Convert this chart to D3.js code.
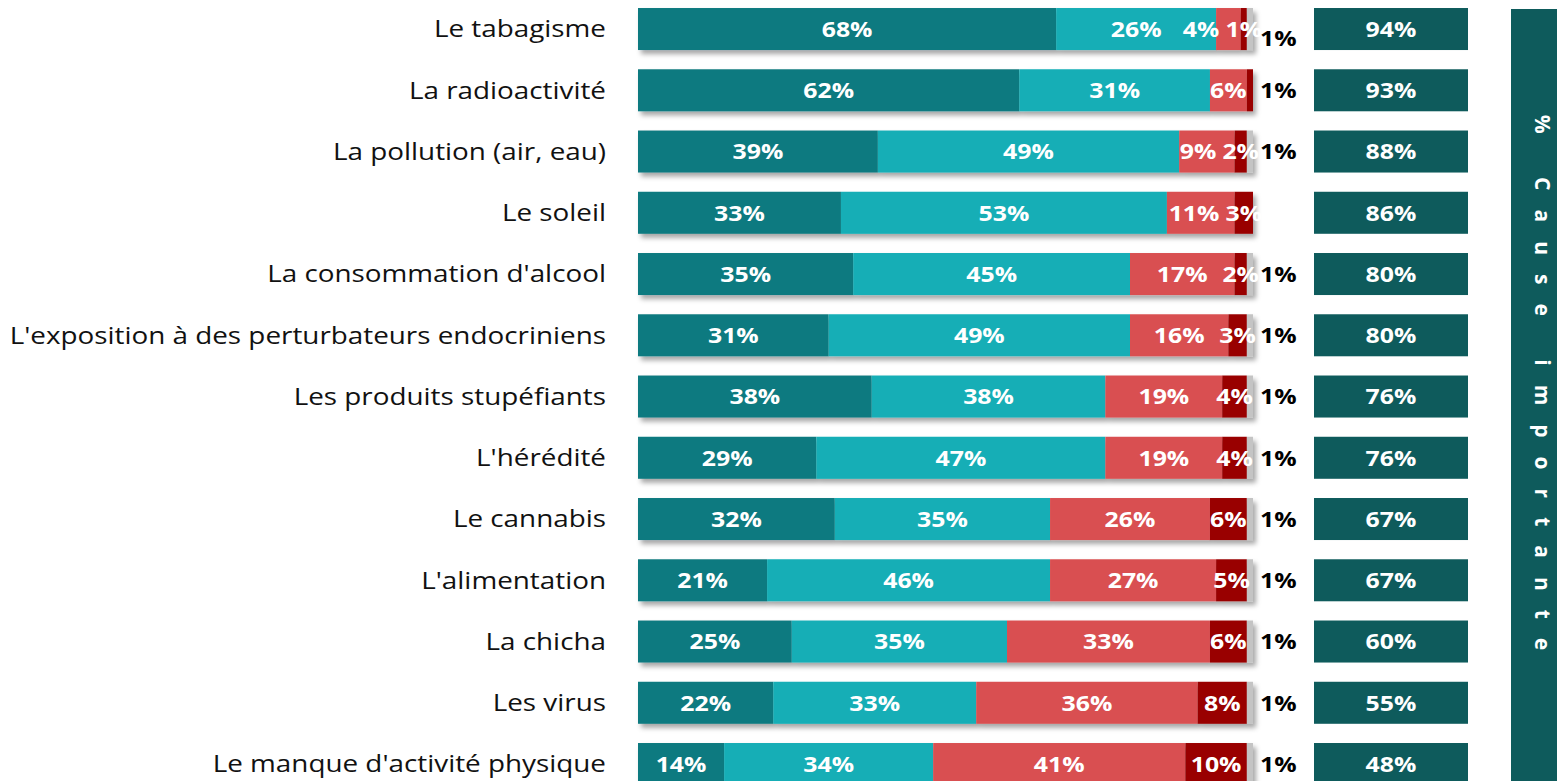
<!DOCTYPE html>
<html>
<head>
<meta charset="utf-8">
<script src="https://cdn.jsdelivr.net/npm/d3@7"></script>
<style>
  body { margin: 0; background: #fff; overflow: hidden; }
  text { font-family: "Open Sans", sans-serif; }
</style>
</head>
<body>
<div id="chart"></div>
<script>
let width = 1557, height = 781;

// categories and series (in %)
let categories = [
  "Le tabagisme",
  "La radioactivité",
  "La pollution (air, eau)",
  "Le soleil",
  "La consommation d'alcool",
  "L'exposition à des perturbateurs endocriniens",
  "Les produits stupéfiants",
  "L'hérédité",
  "Le cannabis",
  "L'alimentation",
  "La chicha",
  "Les virus",
  "Le manque d'activité physique"
];
let tresImportante = [68, 62, 39, 33, 35, 31, 38, 29, 32, 21, 25, 22, 14];
let assezImportante = [26, 31, 49, 53, 45, 49, 38, 47, 35, 46, 35, 33, 34];
let peuImportante = [4, 6, 9, 11, 17, 16, 19, 19, 26, 27, 33, 36, 41];
let pasImportante = [1, 1, 2, 3, 2, 3, 4, 4, 6, 5, 6, 8, 10];
let nsp = [1, 0, 1, 0, 1, 1, 1, 1, 1, 1, 1, 1, 1];
let causeImportante = [94, 93, 88, 86, 80, 80, 76, 76, 67, 67, 60, 55, 48];
let sideTitle = "% Cause importante";

let series = [tresImportante, assezImportante, peuImportante, pasImportante, nsp];
let colors = ["#117a80", "#15aeb6", "#d94f51", "#990000", "#c4c4c4"];

// the source picture is slightly stretched horizontally
let sx = 1.13;

let svg = d3.select("#chart").append("svg")
  .attr("width", width)
  .attr("height", height);

let defs = svg.append("defs");
let shadow = defs.append("filter").attr("id", "shadow")
  .attr("x", "-5%").attr("y", "-30%").attr("width", "115%").attr("height", "170%");
shadow.append("feDropShadow")
  .attr("dx", 3).attr("dy", 4)
  .attr("stdDeviation", 2.5)
  .attr("flood-color", "#000")
  .attr("flood-opacity", 0.35);

let x = d3.scaleLinear().domain([0, 100]).range([638, 1253]);
let step = 61.25;
let y = d3.scaleBand()
  .domain(categories)
  .range([-1.6, -1.6 + categories.length * step])
  .paddingInner(0.314)
  .paddingOuter(0.157);

// rows
let rows = categories.map((c, i) => {
  let vals = series.map(s => s[i]);
  let total = d3.sum(vals);
  let acc = 0;
  let segs = vals.map((v, k) => {
    let s = { k: k, v: v, x0: acc / total * 100, x1: (acc + v) / total * 100 };
    acc += v;
    return s;
  });
  return { cat: c, i: i, segs: segs };
});

// category labels
svg.selectAll(".catLabel")
  .data(rows)
  .enter()
  .append("text")
  .attr("class", "catLabel")
  .attr("transform", d => "translate(606," + (y(d.cat) + y.bandwidth() / 2) + ") scale(1.16,1)")
  .attr("dy", "0.35em")
  .attr("text-anchor", "end")
  .style("font-size", "24px")
  .style("fill", "#111")
  .text(d => d.cat);

let rowG = svg.selectAll(".row")
  .data(rows)
  .enter()
  .append("g")
  .attr("class", "row");

rowG.append("g")
  .attr("filter", "url(#shadow)")
  .selectAll("rect")
  .data(d => d.segs.filter(s => s.v > 0))
  .enter()
  .append("rect")
  .attr("x", s => x(s.x0))
  .attr("width", s => x(s.x1) - x(s.x0))
  .attr("y", function() { return y(d3.select(this.parentNode).datum().cat); })
  .attr("height", y.bandwidth())
  .attr("fill", s => colors[s.k]);

// value labels: inside in white, the last small segment outside in black
let fontSize = 22;
rowG.each(function(d) {
  let g = d3.select(this);
  let cy = y(d.cat) + y.bandwidth() / 2;
  let nonzero = d.segs.filter(s => s.v > 0);
  let lastSeg = nonzero[nonzero.length - 1];
  let outside = lastSeg.v <= 1 ? lastSeg : null;
  let inside = nonzero.filter(s => s !== outside);
  let labels = inside.map(s => {
    let t = g.append("text")
      .attr("dy", "0.36em")
      .attr("text-anchor", "middle")
      .style("font-size", fontSize + "px")
      .style("font-weight", 700)
      .style("fill", "#fff")
      .text(s.v + "%");
    let w = t.node().getComputedTextLength() * sx;
    return { t: t, w: w, cx: (x(s.x0) + x(s.x1)) / 2 };
  });
  // push overlapping labels to the left
  for (let j = labels.length - 2; j >= 0; j--) {
    let a = labels[j], b = labels[j + 1];
    let limit = b.cx - b.w / 2 - 6;
    if (a.cx + a.w / 2 > limit) a.cx = limit - a.w / 2;
  }
  labels.forEach(l => l.t.attr("transform", "translate(" + l.cx + "," + cy + ") scale(" + sx + ",1)"));

  if (outside) {
    let lastInside = labels[labels.length - 1];
    let lx = x(100) + 7;
    let shift = lastInside.cx + lastInside.w / 2 > lx ? 9 : 0;
    g.append("text")
      .attr("transform", "translate(" + lx + "," + (cy + shift) + ") scale(" + sx + ",1)")
      .attr("dy", "0.36em")
      .style("font-size", fontSize + "px")
      .style("font-weight", 700)
      .style("fill", "#000")
      .text(outside.v + "%");
  }
});

// right column: % cause importante
let boxX = 1314, boxW = 154;
svg.selectAll(".causeBox")
  .data(categories)
  .enter()
  .append("rect")
  .attr("class", "causeBox")
  .attr("x", boxX)
  .attr("y", d => y(d))
  .attr("width", boxW)
  .attr("height", y.bandwidth())
  .attr("fill", "#0e5b5c");

svg.selectAll(".causeLabel")
  .data(categories)
  .enter()
  .append("text")
  .attr("class", "causeLabel")
  .attr("transform", d => "translate(" + (boxX + boxW / 2) + "," + (y(d) + y.bandwidth() / 2) + ") scale(" + sx + ",1)")
  .attr("dy", "0.36em")
  .attr("text-anchor", "middle")
  .style("font-size", fontSize + "px")
  .style("font-weight", 700)
  .style("fill", "#fff")
  .text((d, i) => causeImportante[i] + "%");

// vertical title box
svg.append("rect")
  .attr("x", 1511)
  .attr("y", 9)
  .attr("width", 70)
  .attr("height", 800)
  .attr("fill", "#0e5b5c");

svg.append("text")
  .attr("transform", "translate(1543,392) rotate(90)")
  .attr("text-anchor", "middle")
  .attr("dy", "0.36em")
  .style("font-size", "21px")
  .style("font-weight", 700)
  .style("letter-spacing", "19px")
  .style("fill", "#fff")
  .text(sideTitle);
</script>
</body>
</html>
